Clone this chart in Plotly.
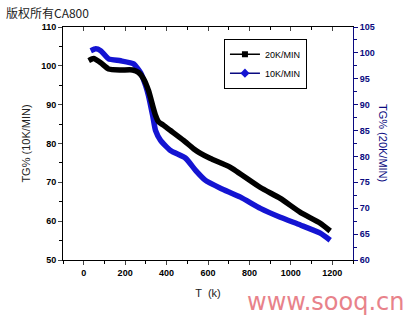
import plotly.graph_objects as go

# 20 K/min (black, right axis)
t20 = [24, 48, 82, 120, 178, 236, 265, 289, 313, 333, 347, 361, 386, 419, 482, 530, 564, 612, 708, 853, 949, 1046, 1142, 1190]
tg20 = [98.5, 98.9, 98.1, 96.9, 96.7, 96.7, 96.2, 95.0, 92.7, 89.8, 87.9, 86.7, 86.0, 85.0, 83.1, 81.5, 80.6, 79.6, 77.9, 74.0, 71.9, 69.2, 67.1, 65.6]

# 10 K/min (blue, left axis)
t10 = [34, 58, 82, 120, 178, 241, 275, 299, 313, 333, 347, 371, 419, 492, 540, 588, 660, 757, 853, 949, 1046, 1142, 1190]
tg10 = [103.9, 104.4, 103.9, 101.8, 101.3, 100.5, 98.2, 94.9, 92.3, 87.2, 83.3, 80.8, 78.2, 76.2, 73.1, 70.5, 68.5, 66.2, 63.3, 61.0, 59.0, 56.9, 55.1]

NAVY = "#0a0a80"
BLUE = "#1414d2"

fig = go.Figure()
fig.add_trace(go.Scatter(x=t20, y=tg20, mode="lines", yaxis="y2",
                         line=dict(color="black", width=5.5, shape="spline", smoothing=0.5), showlegend=False))
fig.add_trace(go.Scatter(x=t10, y=tg10, mode="lines", yaxis="y",
                         line=dict(color=BLUE, width=5.5, shape="spline", smoothing=0.5), showlegend=False))
# legend entries
fig.add_trace(go.Scatter(x=[None], y=[None], mode="lines+markers", name="20K/MIN",
                         line=dict(color="black", width=1.5),
                         marker=dict(symbol="square", size=6, color="black")))
fig.add_trace(go.Scatter(x=[None], y=[None], mode="lines+markers", name="10K/MIN",
                         line=dict(color=NAVY, width=1.5),
                         marker=dict(symbol="diamond", size=7, color=BLUE)))
# top axis helper
fig.add_trace(go.Scatter(x=[None], y=[None], xaxis="x2", showlegend=False))

tickf = dict(family="Liberation Sans, Arial", size=9, color="black", weight="bold")

fig.update_layout(
    width=414, height=322,
    margin=dict(l=63, r=61, t=27, b=62),
    paper_bgcolor="white", plot_bgcolor="white",
    showlegend=True,
    legend=dict(x=0.555, y=0.95, xanchor="left", yanchor="top",
                bordercolor="black", borderwidth=1, bgcolor="white",
                font=dict(family="Liberation Sans, Arial", size=9, color="black"),
                tracegroupgap=0, itemwidth=30),
    xaxis=dict(range=[-100, 1300], tick0=0, dtick=200, ticks="outside", ticklen=4,
               showgrid=False, zeroline=False, showline=True, linecolor="black", linewidth=1,
               tickfont=tickf,
               minor=dict(dtick=100, ticklen=3, ticks="outside", tickcolor="black"),
               title=dict(text="T  (k)", font=dict(family="Liberation Sans, Arial", size=11, color="#222"), standoff=12)),
    xaxis2=dict(range=[-100, 1300], overlaying="x", side="top", tick0=0, dtick=200,
                ticks="inside", ticklen=4, showticklabels=False, showgrid=False,
                zeroline=False, showline=True, linecolor="black", linewidth=1,
                minor=dict(dtick=100, ticklen=3, ticks="inside", tickcolor="black")),
    yaxis=dict(range=[50, 110], dtick=10, ticks="outside", ticklen=4,
               showgrid=False, zeroline=False, showline=True, linecolor="black", linewidth=1,
               tickfont=tickf,
               minor=dict(dtick=5, ticklen=3, ticks="outside", tickcolor="black"),
               title=dict(text="TG% (10K/MIN)", font=dict(family="Liberation Sans, Arial", size=11, color="#222"), standoff=8)),
    yaxis2=dict(range=[60, 105], dtick=5, overlaying="y", side="right", ticks="outside", ticklen=4,
                tickcolor=NAVY, showgrid=False, zeroline=False, showline=True,
                linecolor=NAVY, linewidth=1,
                tickfont=dict(family="Liberation Sans, Arial", size=9, color=NAVY, weight="bold"),
                minor=dict(dtick=2.5, ticklen=3, ticks="outside", tickcolor=NAVY)),
)

pw = 414 - 63 - 61
ph = 322 - 27 - 62
def px(xp):
    return (xp - 63) / pw
def py(yp):
    return (322 - 62 - yp) / ph

fig.update_layout(annotations=[
    dict(text="TG% (20K/MIN)", x=px(383), y=py(143), xref="paper", yref="paper",
         xanchor="center", yanchor="middle", showarrow=False, textangle=90,
         font=dict(family="Liberation Sans, Arial", size=11, color=NAVY)),
    dict(text="版权所有CA800", x=px(4), y=py(12), xref="paper", yref="paper",
         xanchor="left", yanchor="middle", showarrow=False,
         font=dict(family="Noto Sans CJK SC", size=12, color="#222")),
    dict(text="www.sooq.cn", x=px(406), y=py(302), xref="paper", yref="paper",
         xanchor="right", yanchor="middle", showarrow=False,
         font=dict(family="DejaVu Sans, Liberation Sans", size=24, color="#e8828a")),
])

fig.write_html("out.html")
